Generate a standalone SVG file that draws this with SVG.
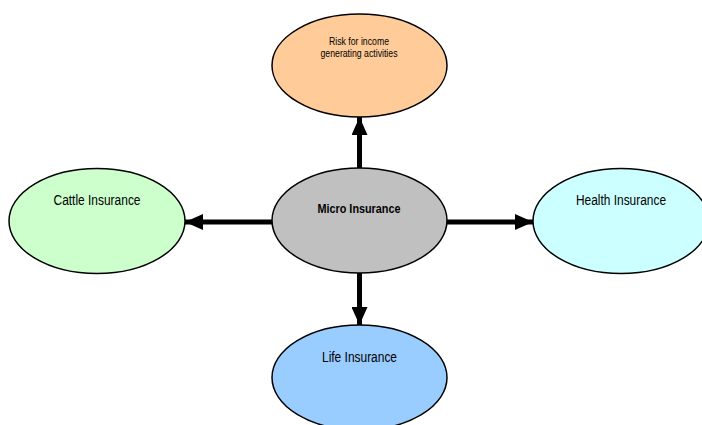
<svg xmlns="http://www.w3.org/2000/svg" width="702" height="425" viewBox="0 0 702 425">
<defs>
<marker id="ah" markerUnits="userSpaceOnUse" markerWidth="18" markerHeight="16" refX="18" refY="8" orient="auto">
<path d="M0,0 L18,8 L0,16 Z" fill="#000"/>
</marker>
<style>
.n{stroke:#000;stroke-width:1.5}
.t{font-family:"Liberation Sans Narrow","Liberation Sans",Arial,sans-serif;fill:#000;text-anchor:middle}
.c{stroke:#000;stroke-width:5;fill:none}
</style>
</defs>
<rect width="702" height="425" fill="#fff"/>
<g id="connectors">
<line class="c" x1="359.5" y1="168" x2="359.5" y2="117" marker-end="url(#ah)"/>
<line class="c" x1="272" y1="222" x2="185" y2="222" marker-end="url(#ah)"/>
<line class="c" x1="447" y1="222" x2="533" y2="222" marker-end="url(#ah)"/>
<line class="c" x1="359.5" y1="273" x2="359.5" y2="325" marker-end="url(#ah)"/>
</g>
<g id="risk">
<ellipse class="n" cx="359.5" cy="65.5" rx="87.5" ry="51.5" fill="#FFCC99"/>
<text class="t" x="359" y="45" font-size="10.5" textLength="60" lengthAdjust="spacingAndGlyphs">Risk for income</text>
<text class="t" x="359" y="57" font-size="10.5" textLength="77" lengthAdjust="spacingAndGlyphs">generating activities</text>
</g>
<g id="micro">
<ellipse class="n" cx="359.5" cy="220.5" rx="87.5" ry="52.5" fill="#C0C0C0"/>
<text class="t" x="359" y="212.5" font-size="13" font-weight="bold" textLength="83" lengthAdjust="spacingAndGlyphs">Micro Insurance</text>
</g>
<g id="cattle">
<ellipse class="n" cx="97" cy="221" rx="88" ry="52.5" fill="#CCFFCC"/>
<text class="t" x="97" y="205" font-size="14" textLength="87" lengthAdjust="spacingAndGlyphs">Cattle Insurance</text>
</g>
<g id="health">
<ellipse class="n" cx="621" cy="221" rx="88" ry="52.5" fill="#CCFFFF"/>
<text class="t" x="621" y="205" font-size="14" textLength="90" lengthAdjust="spacingAndGlyphs">Health Insurance</text>
</g>
<g id="life">
<ellipse class="n" cx="359.5" cy="377.5" rx="87.5" ry="52.5" fill="#99CCFF"/>
<text class="t" x="359.5" y="362" font-size="14" textLength="75" lengthAdjust="spacingAndGlyphs">Life Insurance</text>
</g>
</svg>
